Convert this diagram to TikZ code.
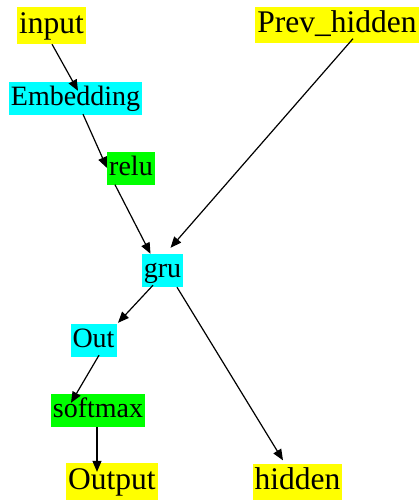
\documentclass[tikz,border=0pt]{standalone}
\usepackage{fontspec}
\setmainfont{Liberation Serif}
\usetikzlibrary{arrows.meta,calc}
\definecolor{ybox}{HTML}{FFFF00}
\definecolor{cbox}{HTML}{00FFFF}
\definecolor{gbox}{HTML}{00FF00}
\tikzset{
  lbl/.style={inner xsep=2pt, anchor=center},
  big/.style={lbl, font=\fontsize{31.5}{34}\selectfont, text height=22.5pt, text depth=7pt, inner ysep=3.7pt},
  small/.style={lbl, font=\fontsize{28}{30}\selectfont, text height=20pt, text depth=6pt, inner ysep=3.5pt},
  ynode/.style={big, fill=ybox},
  cnode/.style={small, fill=cbox},
  gnode/.style={small, fill=gbox},
  conn/.style={line width=1.2pt, -{Triangle[length=11pt,width=9pt]}}
}
\begin{document}
\begin{tikzpicture}[x=1pt,y=-1pt]
\useasboundingbox (0,0) rectangle (419,504);
\node[ynode] (input) at (51.5,25.5) {input};
\node[cnode] (emb) at (75.5,98.5) {Embedding};
\node[gnode] (relu) at (131,168) {relu};
\node[ynode] (prev) at (337,25) {Prev\_hidden};
\node[cnode] (gru) at (162.5,270.5) {gru};
\node[cnode] (out) at (93.5,340.5) {Out};
\node[gnode] (soft) at (98,410.5) {softmax};
\node[ynode] (output) at (112,481.5) {Output};
\node[ynode] (hidden) at (297.5,482) {hidden};

\draw[conn] ($(input.south)+(0.5,0)$) -- ($(emb.north)+(2.5,9)$);
\draw[conn] ($(emb.south)+(7.5,-1)$) -- (relu.west);
\draw[conn] ($(relu.south)+(-16,0)$) -- ($(gru.north)+(-12,0)$);
\draw[conn] ($(prev.south)+(16,-5)$) -- ($(gru.north)+(8,-6)$);
\draw[conn] ($(gru.south)+(-9.5,-2)$) -- ($(out.north)+(24.5,-1)$);
\draw[conn] ($(gru.south)+(14.5,0)$) -- ($(hidden.north)+(-14.5,-3)$);
\draw[conn] ($(out.south)+(5.5,-2)$) -- ($(soft.north)+(-27,9)$);
\draw[conn] ($(soft.south)+(-1,0)$) -- ($(output.north)+(-15,9)$);
\end{tikzpicture}
\end{document}
